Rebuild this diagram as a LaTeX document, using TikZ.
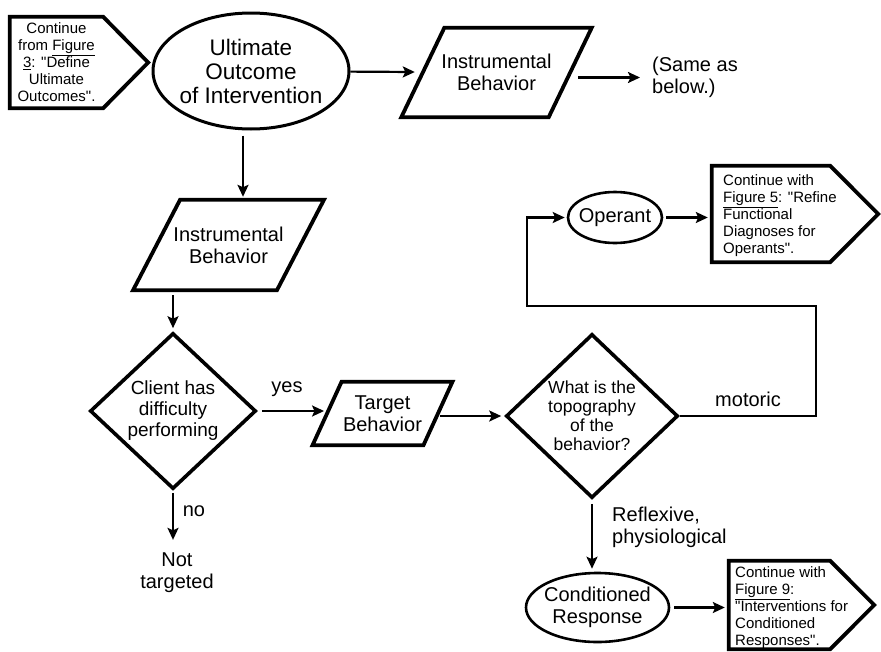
\documentclass[tikz,border=0pt]{standalone}
\usepackage{fontspec}
\setmainfont{Liberation Sans}[Ligatures=TeXOff]
\usetikzlibrary{shapes.geometric,arrows.meta,calc}

% outline of a slanted input/output box around a named rectangle node
\newcommand\slantbox[2]{\draw[outline] ([xshift=#2]#1.north west) -- ([xshift=#2]#1.north east)
  -- ([xshift=-#2]#1.south east) -- ([xshift=-#2]#1.south west) -- cycle;}
% outline of an off-page connector pointing right
\newcommand\exitbox[2]{\draw[outline] (#1.north west) -- (#1.north east) -- ([xshift=#2]#1.east)
  -- (#1.south east) -- (#1.south west) -- cycle;}

\tikzset{
  conn/.style={line width=2.2pt, -{Stealth[length=12pt,width=11pt,inset=2.5pt]}, shorten >=3pt},
  outline/.style={line width=3.8pt, line join=miter},
  hold/.style={rectangle, inner sep=0pt, draw=none},
  oval/.style={ellipse, draw, line width=3pt, inner sep=0pt},
  choice/.style={diamond, draw, line width=3.6pt, inner sep=0pt, align=center, line join=miter},
  big/.style={font=\fontsize{20}{22}\selectfont, align=center, inner sep=0pt},
  note/.style={font=\fontsize{15}{17}\selectfont, inner sep=0pt},
}

\begin{document}
\begin{tikzpicture}[x=1pt,y=-1pt]
\useasboundingbox (0,0) rectangle (881,651);

% ---- top row ----
\node[hold, note, align=center, minimum width=93pt, minimum height=91pt] (cont1) at (56.5,62.5)
  {Continue\\from \underline{Figure}\\\underline{3}: "Define\\Ultimate\\Outcomes".};
\exitbox{cont1}{45pt}

\node[oval, minimum width=196pt, minimum height=116pt,
  label={[big, font=\fontsize{22.5}{24}\selectfont]center:Ultimate\\Outcome\\of Intervention}] (ult) at (251,71) {};

\node[hold, big, minimum width=147pt, minimum height=89pt] (para1) at (496.5,72.5) {Instrumental\\Behavior};
\slantbox{para1}{21.5pt}

\node[big, align=left, anchor=west] (same) at (652,77.5) {(Same as\\below.)};

% ---- left column ----
\node[hold, big, minimum width=143.5pt, minimum height=90pt] (para2) at (228.5,245) {Instrumental\\Behavior};
\slantbox{para2}{23.5pt}

\node[choice, minimum width=166pt, minimum height=156pt, font=\fontsize{19}{21}\selectfont] (d1) at (173,411)
  {Client has\\difficulty\\performing};

\node[big] (nt) at (177,573) {Not\\targeted};

% ---- middle row ----
\node[hold, big, minimum width=110.5pt, minimum height=63pt] (target) at (382.5,413.5) {Target\\Behavior};
\slantbox{target}{14.5pt}

\node[choice, minimum width=172pt, minimum height=164pt, font=\fontsize{17.5}{19}\selectfont] (d2) at (592,416)
  {What is the\\topography\\of the\\behavior?};

% ---- right side ----
\node[oval, line width=2.6pt, minimum width=94pt, minimum height=51pt,
  label={[big]center:Operant}] (op) at (615,217.5) {};

\node[hold, minimum width=118pt, minimum height=96pt] (cont2) at (771,214) {};
\exitbox{cont2}{48pt}
\node[note, align=left, anchor=west] (cont2t) at (723,216)
  {Continue with\\\underline{Figure 5}: "Refine\\Functional\\Diagnoses for\\Operants".};

\node[oval, line width=2.6pt, minimum width=143pt, minimum height=69pt,
  label={[big]center:Conditioned\\Response}] (cr) at (597.5,607.5) {};

\node[hold, minimum width=101pt, minimum height=88pt] (cont3) at (779.5,605) {};
\exitbox{cont3}{44pt}
\node[note, align=left, anchor=west] (cont3t) at (735,608)
  {Continue with\\\underline{Figure 9}:\\"Interventions for\\Conditioned\\Responses".};

% ---- branch labels ----
\node[big] (yes) at (287,389) {yes};
\node[big] (no) at (194,511) {no};
\node[big] (motoric) at (748,399) {motoric};
\node[big, align=left, anchor=west] (reflex) at (612,527) {Reflexive,\\physiological};

\coordinate (rtop) at (816,306);
\coordinate (ltop) at (527,306);

% ---- connectors ----
\draw[conn, shorten >=8pt] (ult) -- (para1);
\draw[conn, shorten <=8pt, shorten >=12pt] (para1.east |- same.west) -- (same.west);
\draw[conn, shorten <=5pt] ([xshift=-8pt]ult.south) -- ([xshift=-8pt]ult.south |- para2.north);
\draw[conn, shorten <=5pt] (d1.north |- para2.south) -- (d1.north);
\draw[conn, shorten <=4pt] (d1.east) -- (d1.east -| target.west);
\draw[conn, shorten <=2pt] (target.east |- d2.west) -- (d2.west);
\draw[conn, shorten >=2pt] (d2.east) -| (rtop) -- (ltop) |- (op.west);
\draw[conn, shorten <=3pt, shorten >=4pt] (op.east) -- (op.east -| cont2.west);
\draw[conn, shorten <=4pt] (d2.south) -- (d2.south |- cr.north);
\draw[conn, shorten <=4pt, shorten >=4pt] (cr.east) -- (cr.east -| cont3.west);
\draw[conn, shorten <=2pt, shorten >=13pt] (d1.south) -- (d1.south |- nt.north);
\end{tikzpicture}
\end{document}
